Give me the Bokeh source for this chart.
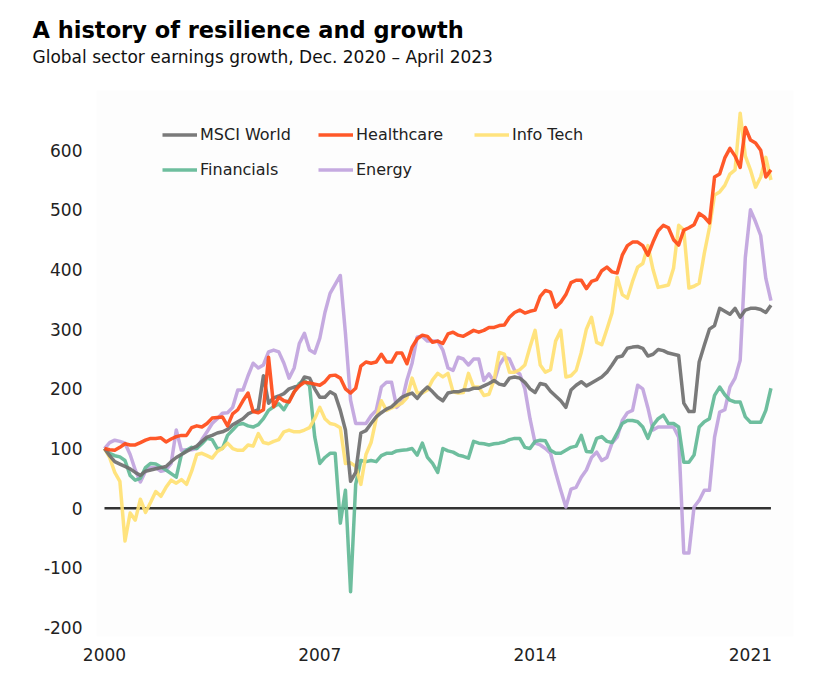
from bokeh.plotting import figure
from bokeh.models import Title, Legend, LegendItem, FixedTicker, Range1d, PrintfTickFormatter
from bokeh.embed import file_html
from bokeh.resources import INLINE

# bimonthly observations starting Jan 2000
x = [2000 + i / 6 for i in range(131)]

msci_world = [100, 88, 78, 74, 70, 66, 60, 55, 62, 64, 66, 68, 70, 78, 85, 90, 95, 100, 104, 112,
              119, 122, 126, 128, 132, 140, 145, 150, 158, 162, 165, 222, 176, 185, 188, 192, 200, 203, 205, 220,
              218, 200, 186, 186, 195, 190, 164, 131, 45, 60, 126, 130, 142, 153, 160, 166, 170, 178, 186, 190,
              193, 184, 195, 203, 195, 186, 180, 193, 195, 195, 198, 198, 201, 201, 205, 209, 214, 208, 206, 218,
              220, 218, 211, 200, 194, 209, 207, 196, 188, 180, 169, 198, 206, 212, 205, 210, 215, 220, 228, 240,
              253, 255, 268, 270, 271, 268, 255, 258, 266, 264, 260, 258, 256, 176, 162, 162, 245, 273, 300, 306,
              335, 330, 325, 335, 320, 332, 335, 335, 333, 328, 340]

healthcare = [100, 98, 97, 102, 108, 106, 106, 110, 114, 117, 117, 118, 111, 116, 120, 122, 122, 135, 138, 136,
              142, 151, 152, 153, 138, 158, 165, 180, 193, 162, 160, 165, 253, 170, 186, 180, 178, 195, 205, 211,
              210, 208, 206, 212, 222, 223, 218, 200, 193, 201, 238, 245, 243, 245, 258, 245, 245, 260, 260, 242,
              270, 284, 290, 288, 278, 280, 276, 292, 295, 290, 288, 293, 298, 295, 298, 303, 303, 306, 307, 320,
              328, 332, 327, 330, 332, 355, 365, 362, 337, 345, 358, 378, 382, 382, 368, 380, 383, 398, 404, 396,
              394, 424, 440, 446, 446, 440, 424, 446, 465, 474, 470, 450, 441, 466, 470, 475, 494, 488, 478, 555,
              560, 587, 603, 590, 571, 638, 617, 612, 600, 555, 567]

info_tech = [100, 85, 60, 45, -55, -8, -20, 15, -7, 10, 28, 20, 35, 47, 42, 48, 40, 62, 90, 92,
             88, 84, 95, 100, 109, 100, 97, 97, 106, 104, 125, 110, 108, 112, 115, 128, 131, 128, 128, 131,
             135, 150, 169, 150, 142, 140, 135, 75, 76, 70, 40, 90, 110, 150, 180, 164, 168, 172, 176, 185,
             218, 193, 193, 198, 215, 226, 220, 226, 195, 193, 194, 226, 203, 203, 189, 191, 215, 261, 258, 228,
             228, 232, 240, 270, 298, 240, 228, 232, 280, 298, 220, 222, 231, 261, 300, 320, 278, 274, 300, 327,
             387, 358, 352, 380, 404, 410, 440, 400, 370, 372, 374, 402, 474, 466, 369, 372, 377, 427, 470, 525,
             530, 541, 560, 567, 662, 590, 567, 538, 555, 588, 550]

financials = [100, 92, 88, 86, 80, 55, 47, 50, 68, 75, 74, 69, 64, 58, 52, 90, 97, 102, 100, 108,
              117, 115, 100, 100, 122, 131, 140, 142, 138, 136, 140, 150, 164, 170, 175, 165, 180, 195, 209, 214,
              205, 120, 75, 85, 92, 92, -25, 30, -140, 40, 80, 78, 80, 78, 88, 92, 92, 96, 97, 98,
              100, 89, 109, 85, 75, 60, 100, 96, 94, 89, 87, 84, 112, 109, 108, 106, 108, 109, 111, 115,
              117, 117, 102, 100, 112, 114, 113, 97, 92, 92, 97, 102, 104, 122, 95, 94, 117, 120, 112, 110,
              126, 142, 147, 147, 145, 136, 117, 139, 150, 156, 142, 142, 136, 77, 77, 89, 136, 145, 150, 189,
              203, 190, 181, 178, 178, 153, 144, 144, 144, 164, 201]

energy = [100, 110, 114, 112, 109, 90, 64, 44, 62, 68, 68, 62, 64, 75, 131, 97, 98, 98, 100, 115,
          128, 142, 150, 159, 160, 169, 198, 198, 222, 243, 235, 240, 262, 265, 262, 243, 218, 235, 276, 293,
          265, 260, 285, 328, 360, 375, 390, 293, 181, 142, 142, 142, 155, 164, 203, 211, 211, 169, 178, 215,
          243, 287, 288, 280, 280, 280, 265, 235, 231, 253, 250, 240, 250, 250, 214, 225, 212, 240, 253, 250,
          231, 225, 200, 150, 109, 106, 100, 92, 60, 30, 2, 32, 35, 52, 64, 85, 94, 80, 85, 109,
          119, 147, 160, 164, 206, 200, 168, 131, 136, 136, 136, 136, 119, -75, -75, 2, 13, 30, 30, 119,
          161, 165, 203, 218, 248, 420, 500, 480, 457, 385, 348]

series_names = ["MSCI World", "Healthcare", "Info Tech", "Financials", "Energy"]
x_ticks = [2000, 2007, 2014, 2021]
y_ticks = [-200, -100, 0, 100, 200, 300, 400, 500, 600]
title_text = "A history of resilience and growth"
subtitle_text = "Global sector earnings growth, Dec. 2020 \u2013 April 2023"

colors = {
    "MSCI World": "#6f6f6f",
    "Healthcare": "#ff4a17",
    "Info Tech": "#ffe173",
    "Financials": "#62b996",
    "Energy": "#c0a3dd",
}
values = {
    "MSCI World": msci_world,
    "Healthcare": healthcare,
    "Info Tech": info_tech,
    "Financials": financials,
    "Energy": energy,
}

FONT = "DejaVu Sans"

p = figure(width=805, height=680, output_backend="svg", toolbar_location=None,
           x_range=Range1d(1999.74, 2022.4), y_range=Range1d(-215, 700),
           min_border_left=96, min_border_right=12, min_border_bottom=44, min_border_top=90)

p.background_fill_color = "#fdfdfd"
p.border_fill_color = "white"
p.outline_line_color = None
p.xgrid.grid_line_color = None
p.ygrid.grid_line_color = None

for ax in (p.xaxis[0], p.yaxis[0]):
    ax.axis_line_color = None
    ax.major_tick_line_color = None
    ax.minor_tick_line_color = None
    ax.major_label_text_font = FONT
    ax.major_label_text_font_size = "17px"
    ax.major_label_text_color = "#222222"
p.xaxis[0].ticker = FixedTicker(ticks=x_ticks)
p.yaxis[0].ticker = FixedTicker(ticks=y_ticks)
p.yaxis[0].formatter = PrintfTickFormatter(format="%d")
p.xaxis[0].formatter = PrintfTickFormatter(format="%d")
p.xaxis[0].major_label_standoff = 5
p.yaxis[0].major_label_standoff = 8

# zero baseline across the data span
p.line([x[0], x[-1]], [0, 0], line_color="#333333", line_width=2.5)

renderers = {}
for name in ["Energy", "Financials", "Info Tech", "MSCI World", "Healthcare"]:
    renderers[name] = p.line(x, values[name], line_color=colors[name], line_width=3.5,
                             line_alpha=0.92, line_join="round")

legend = Legend(items=[LegendItem(label=n, renderers=[renderers[n]]) for n in series_names],
                orientation="horizontal", ncols=3, location=(66, 449),
                padding=0, margin=0, spacing=0,
                glyph_width=35, glyph_height=35, label_height=35, label_width=118,
                label_standoff=3, label_text_font=FONT, label_text_font_size="16px",
                label_text_color="#222222", border_line_alpha=0, background_fill_alpha=0)
p.add_layout(legend)

# white (invisible) spacer between the subtitle and the plot area
spacer = Title(text=".", align="left", text_font=FONT, text_font_size="10px",
               text_color="#ffffff", offset=-64, standoff=14)
sub = Title(text=subtitle_text, align="left",
            text_font=FONT, text_font_size="17px", text_font_style="normal",
            text_color="#111111", offset=-64, standoff=0)
ttl = Title(text=title_text, align="left",
            text_font=FONT, text_font_size="22.5px", text_font_style="bold",
            text_color="#000000", offset=-64, standoff=4)
p.add_layout(spacer, "above")
p.add_layout(sub, "above")
p.add_layout(ttl, "above")

open("out.html", "w").write(file_html(p, INLINE))
